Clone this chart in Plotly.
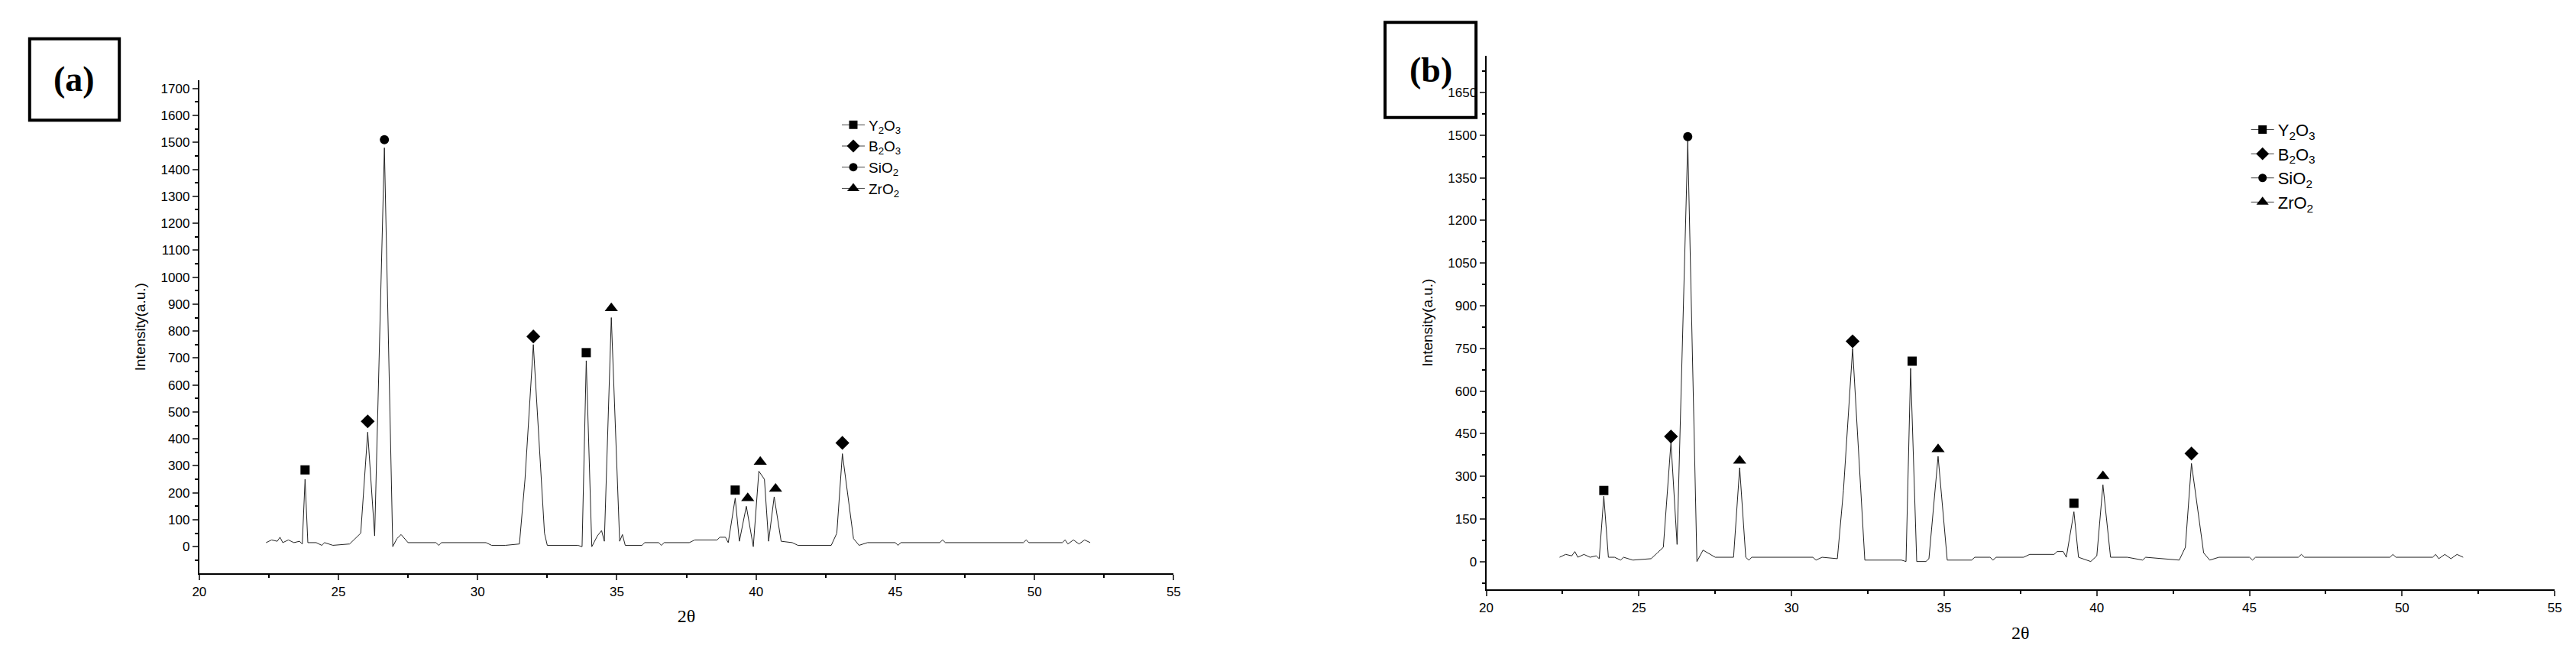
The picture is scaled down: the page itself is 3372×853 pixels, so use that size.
import plotly.graph_objects as go

# ---- pattern (a): 2theta / intensity ----
xa = [22.4, 22.6, 22.8, 22.9, 23.0, 23.2, 23.4, 23.6, 23.7, 23.8, 23.9, 24.2, 24.4, 24.5, 24.8, 25.4, 25.6, 25.8,
      26.05, 26.3, 26.65, 26.95, 27.1, 27.25, 27.5, 28.5, 28.6, 28.7, 30.3, 30.5, 31.0, 31.5, 31.7, 32.0, 32.4,
      32.5, 33.6, 33.75, 33.9, 34.1, 34.3, 34.45, 34.55, 34.8, 35.1, 35.2, 35.3, 35.9, 36.0, 36.5, 36.6, 36.7,
      37.6, 37.8, 38.6, 38.7, 38.9, 39.0, 39.25, 39.4, 39.65, 39.9, 40.1, 40.3, 40.45, 40.65, 40.9, 41.3, 41.5,
      42.7, 42.9, 43.1, 43.5, 43.7, 44.0, 45.0, 45.1, 45.2, 46.6, 46.7, 46.8, 49.6, 49.7, 49.8, 51.0, 51.1,
      51.2, 51.4, 51.6, 51.8, 52.0]
ya = [15, 25, 20, 35, 15, 25, 15, 20, 10, 250, 15, 15, 5, 15, 5, 10, 30, 50,
      425, 40, 1480, 0, 30, 45, 15, 15, 5, 15, 15, 5, 5, 10, 250, 750, 50,
      5, 5, 0, 690, 0, 40, 60, 20, 850, 20, 45, 5, 5, 15, 15, 5, 15,
      15, 25, 25, 35, 35, 15, 180, 20, 150, 0, 280, 250, 20, 185, 20, 15, 5,
      5, 50, 345, 30, 5, 15, 15, 5, 15, 15, 25, 15, 15, 25, 15, 15, 25,
      10, 25, 10, 25, 15]

# ---- pattern (b) ----
xb = [22.4, 22.6, 22.8, 22.9, 23.0, 23.2, 23.4, 23.6, 23.7, 23.85, 24.0, 24.2, 24.4, 24.5, 24.8, 25.4, 25.6,
      25.8, 26.05, 26.25, 26.6, 26.9, 27.1, 27.25, 27.5, 28.1, 28.3, 28.5, 28.6, 28.7, 30.0, 30.7, 30.8, 31.0,
      31.5, 31.7, 32.0, 32.4, 33.6, 33.75, 33.9, 34.1, 34.4, 34.5, 34.8, 35.1, 35.9, 36.0, 36.5, 36.6, 36.7,
      37.6, 37.8, 38.6, 38.7, 38.9, 39.0, 39.25, 39.4, 39.8, 40.0, 40.2, 40.45, 41.0, 41.5, 41.6, 42.7, 42.9,
      43.1, 43.5, 43.7, 44.0, 45.0, 45.1, 45.2, 46.6, 46.7, 46.8, 49.6, 49.7, 49.8, 51.0, 51.1, 51.2, 51.4,
      51.6, 51.8, 52.0]
yb = [15, 25, 20, 35, 15, 25, 15, 20, 10, 230, 15, 15, 5, 15, 5, 10, 30,
      50, 420, 60, 1480, 0, 40, 30, 15, 15, 330, 15, 5, 15, 15, 15, 5, 15,
      10, 250, 750, 5, 5, 0, 680, 0, 0, 10, 370, 5, 5, 15, 15, 5, 15,
      15, 25, 25, 35, 35, 15, 175, 15, 0, 20, 270, 15, 15, 5, 15, 5, 50,
      345, 30, 5, 15, 15, 5, 15, 15, 25, 15, 15, 25, 15, 15, 25, 10, 25,
      10, 25, 15]

phases = ["Y<sub>2</sub>O<sub>3</sub>", "B<sub>2</sub>O<sub>3</sub>", "SiO<sub>2</sub>", "ZrO<sub>2</sub>"]
symbols = ["square", "diamond", "circle", "triangle-up"]
sizes = [12, 14, 12, 15]

# peak markers: phase index, 2theta, marker height
mark_a_phase = [0, 1, 2, 1, 0, 3, 0, 3, 3, 3, 1]
mark_a_x = [23.8, 26.05, 26.65, 32.0, 33.9, 34.8, 39.25, 39.7, 40.15, 40.7, 43.1]
mark_a_y = [285, 465, 1510, 780, 720, 885, 210, 180, 315, 215, 385]

mark_b_phase = [0, 1, 2, 3, 1, 0, 3, 0, 3, 1]
mark_b_x = [23.85, 26.05, 26.6, 28.3, 32.0, 33.95, 34.8, 39.25, 40.2, 43.1]
mark_b_y = [250, 440, 1495, 355, 775, 705, 395, 205, 300, 380]

fig = go.Figure()
line = dict(color="#222", width=1)

fig.add_trace(go.Scatter(x=xa, y=ya, mode="lines", line=line, showlegend=False, xaxis="x", yaxis="y"))
fig.add_trace(go.Scatter(x=xb, y=yb, mode="lines", line=line, showlegend=False, xaxis="x2", yaxis="y2"))

for ph, xs, ys, ax, ay in [(mark_a_phase, mark_a_x, mark_a_y, "x", "y"),
                           (mark_b_phase, mark_b_x, mark_b_y, "x2", "y2")]:
    for i in range(4):
        px = [x for p, x in zip(ph, xs) if p == i]
        py = [y for p, y in zip(ph, ys) if p == i]
        fig.add_trace(go.Scatter(x=px, y=py, mode="markers", showlegend=False,
                                 marker=dict(symbol=symbols[i], size=sizes[i], color="black"),
                                 xaxis=ax, yaxis=ay))

# legend entries
for leg, ax, ay in [("legend", "x", "y"), ("legend2", "x2", "y2")]:
    for i in range(4):
        fig.add_trace(go.Scatter(x=[None], y=[None], mode="lines+markers", name=phases[i], legend=leg,
                                 line=dict(color="#444", width=1),
                                 marker=dict(symbol=symbols[i], size=sizes[i] - 1, color="black"),
                                 xaxis=ax, yaxis=ay))

tickfont = dict(family="Liberation Sans", size=17, color="black")
common_x = dict(range=[20, 55], dtick=5, showline=True, linecolor="black", linewidth=2, ticks="outside",
                ticklen=7, tickwidth=1.5, showgrid=False, zeroline=False, tickfont=tickfont,
                minor=dict(ticks="outside", ticklen=4, dtick=2.5, tickcolor="black"),
                title=dict(text="2θ", font=dict(family="Liberation Serif", size=24, color="black")))
common_y = dict(showline=True, linecolor="black", linewidth=2, ticks="outside", ticklen=7, tickwidth=1.5,
                showgrid=False, zeroline=False, tickfont=tickfont,
                title=dict(text="Intensity(a.u.)", font=dict(family="Liberation Sans", size=19, color="black")))

fig.update_layout(
    width=3372, height=853, paper_bgcolor="white", plot_bgcolor="white",
    margin=dict(l=0, r=0, t=0, b=0),
    xaxis=dict(common_x, domain=[0.0727, 0.453], anchor="y"),
    yaxis=dict(common_y, domain=[0.130, 0.886], anchor="x", range=[-99, 1730], dtick=100,
               minor=dict(ticks="outside", ticklen=4, dtick=50, tickcolor="black")),
    xaxis2=dict(common_x, domain=[0.575, 0.992], anchor="y2"),
    yaxis2=dict(common_y, domain=[0.105, 0.924], anchor="x2", range=[-99, 1780], dtick=150,
                minor=dict(ticks="outside", ticklen=4, dtick=75, tickcolor="black")),
    legend=dict(x=0.322, y=0.84, xanchor="left", yanchor="top", bgcolor="rgba(0,0,0,0)",
                font=dict(family="Liberation Sans", size=19, color="black")),
    legend2=dict(x=0.872, y=0.835, xanchor="left", yanchor="top", bgcolor="rgba(0,0,0,0)",
                 font=dict(family="Liberation Sans", size=22, color="black")),
    shapes=[
        dict(type="rect", xref="paper", yref="paper", x0=0.0065, x1=0.0415, y0=0.825, y1=0.95,
             line=dict(color="black", width=4)),
        dict(type="rect", xref="paper", yref="paper", x0=0.5355, x1=0.571, y0=0.829, y1=0.975,
             line=dict(color="black", width=4)),
    ],
    annotations=[
        dict(text="<b>(a)</b>", xref="paper", yref="paper", x=0.024, y=0.888, showarrow=False,
             xanchor="center", yanchor="middle",
             font=dict(family="Liberation Serif", size=46, color="black")),
        dict(text="<b>(b)</b>", xref="paper", yref="paper", x=0.5533, y=0.902, showarrow=False,
             xanchor="center", yanchor="middle",
             font=dict(family="Liberation Serif", size=46, color="black")),
    ],
)

fig.write_html("out.html")
